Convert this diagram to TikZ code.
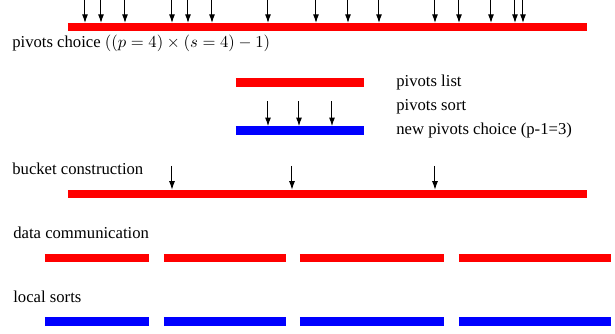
\documentclass[tikz,border=0pt]{standalone}
\usepackage{fontspec}
\setmainfont{Liberation Serif}
\usetikzlibrary{arrows.meta}

\tikzset{
  bar/.style={line width=5.1pt,line cap=butt},
  piv/.style={line width=0.6pt,-{Latex[length=5.2pt,width=3.6pt]}},
  lbl/.style={anchor=west,inner sep=0pt,font=\fontsize{10}{12}\selectfont}
}

\begin{document}
\begin{tikzpicture}[x=0.6pt,y=-0.6pt]
  \useasboundingbox (0,0) rectangle (615,334);

  \def\xa{68}
  \def\xb{587}
  \def\pivots{85,101,125,172,188,212,268,316,348,379,435,459,491,515,523}
  \def\sorted{268,299,332}
  \def\buckets{172,292,435}
  \def\parts{45/149,164/286,300/444,459/611}

  % pivots choice
  \coordinate (ca) at (\xa,27);
  \coordinate (cb) at (\xb,27);
  \draw[bar,red] (ca) -- (cb);
  \foreach \x[count=\i] in \pivots {
    \coordinate (ct\i) at (\x,0);
    \coordinate (cp\i) at (\x,23);
    \draw[piv] (ct\i) -- (cp\i);
  }
  \node[lbl] (choice) at (12,43) {pivots choice $((p=4)\times(s=4)-1)$};

  % pivots list and sort
  \coordinate (la) at (236,82.5);
  \coordinate (lb) at (364,82.5);
  \draw[bar,red] (la) -- (lb);
  \coordinate (na) at (236,130.5);
  \coordinate (nb) at (364,130.5);
  \draw[bar,blue] (na) -- (nb);
  \foreach \x[count=\i] in \sorted {
    \coordinate (st\i) at (\x,101.5);
    \coordinate (sp\i) at (\x,126.2);
    \draw[piv] (st\i) -- (sp\i);
  }
  \node[lbl] (list) at (396,82.5) {pivots list};
  \node[lbl] (sort) at (396,106.5) {pivots sort};
  \node[lbl] (newchoice) at (396,130.5) {new pivots choice (p-1=3)};

  % bucket construction
  \coordinate (ba) at (\xa,194);
  \coordinate (bb) at (\xb,194);
  \draw[bar,red] (ba) -- (bb);
  \foreach \x[count=\i] in \buckets {
    \coordinate (bt\i) at (\x,166);
    \coordinate (bp\i) at (\x,189.8);
    \draw[piv] (bt\i) -- (bp\i);
  }
  \node[lbl] (bucket) at (12,169) {bucket construction};

  % data communication and local sorts
  \foreach \a/\b[count=\i] in \parts {
    \draw[bar,red] (\a,258) -- (\b,258);
    \draw[bar,blue] (\a,321.7) -- (\b,321.7);
  }
  \node[lbl] (comm) at (13,233) {data communication};
  \node[lbl] (sorts) at (13,297) {local sorts};

\end{tikzpicture}
\end{document}
